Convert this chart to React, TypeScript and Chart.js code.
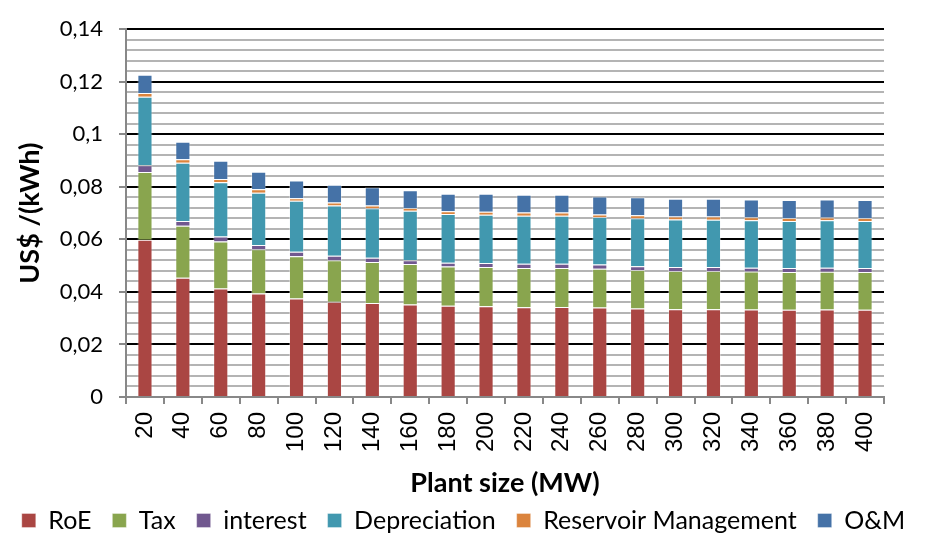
import React, { useEffect, useRef } from "react";
import { Chart, registerables } from "chart.js";

Chart.register(...registerables);

const categories = ["20","40","60","80","100","120","140","160","180","200","220","240","260","280","300","320","340","360","380","400"];

const roe = [0.0599,0.0454,0.0413,0.0394,0.0375,0.0363,0.0358,0.0352,0.0347,0.0345,0.0342,0.0343,0.0341,0.0337,0.0334,0.0334,0.0333,0.0332,0.0333,0.0332];
const tax = [0.0257,0.0198,0.0179,0.0168,0.0161,0.0158,0.0156,0.0154,0.0150,0.0150,0.0149,0.0148,0.0147,0.0146,0.0146,0.0146,0.0145,0.0144,0.0144,0.0144];
const interest = [0.0026,0.0018,0.0019,0.0017,0.0017,0.0017,0.0016,0.0015,0.0014,0.0015,0.0016,0.0016,0.0016,0.0015,0.0015,0.0015,0.0014,0.0015,0.0015,0.0015];
const depreciation = [0.0261,0.0222,0.0206,0.0198,0.0194,0.0191,0.0188,0.0188,0.0186,0.0184,0.0183,0.0183,0.0181,0.0182,0.0181,0.0180,0.0181,0.0179,0.0181,0.0179];
const reservoir = [0.0014,0.0013,0.0013,0.0014,0.0010,0.0011,0.0011,0.0010,0.0010,0.0011,0.0012,0.0012,0.0010,0.0012,0.0011,0.0012,0.0011,0.0011,0.0010,0.0011];
const om = [0.0070,0.0067,0.0069,0.0066,0.0067,0.0068,0.0069,0.0068,0.0067,0.0069,0.0068,0.0068,0.0068,0.0068,0.0068,0.0068,0.0068,0.0069,0.0069,0.0069];

const seriesNames = ["RoE","Tax","interest","Depreciation","Reservoir Management","O&M"];
const seriesColors = ["#AA4643","#89A54E","#71588F","#4198AF","#DB843D","#4572A7"];

const yMax = 0.14;
const yMajorStep = 0.02;
const yMinorStep = 0.004;
const yTitle = "US$ /(kWh)";
const xTitle = "Plant size (MW)";

const FONT = "Lato, 'Open Sans', sans-serif";

function isMajor(v: number) {
  const r = v / yMajorStep;
  return Math.abs(r - Math.round(r)) < 1e-6;
}

export default function App() {
  const ref = useRef<HTMLCanvasElement | null>(null);
  useEffect(() => {
    if (!ref.current) return;
    const values = [roe, tax, interest, depreciation, reservoir, om];
    const chart = new Chart(ref.current, {
      type: "bar",
      data: {
        labels: categories,
        datasets: values.map((d, i) => ({
          label: seriesNames[i],
          data: d,
          backgroundColor: seriesColors[i],
          borderColor: "rgba(255,255,255,0.35)",
          borderWidth: 1,
          barPercentage: 0.4,
          categoryPercentage: 1,
        })),
      },
      options: {
        animation: false,
        responsive: true,
        maintainAspectRatio: false,
        layout: { padding: { left: 0, right: 0, top: 23, bottom: -9 } },
        plugins: {
          tooltip: { enabled: false },
          legend: {
            position: "bottom",
            labels: {
              boxWidth: 14,
              boxHeight: 14,
              padding: 21,
              color: "#000",
              font: { family: FONT, size: 25 },
            },
          },
        },
        scales: {
          x: {
            stacked: true,
            afterFit: (s: any) => { s.height = 90; },
            grid: {
              offset: true,
              drawOnChartArea: false,
              tickLength: 7,
              color: "#888",
              lineWidth: 2,
            },
            border: { color: "#888", width: 2 },
            ticks: {
              minRotation: 90,
              maxRotation: 90,
              autoSkip: false,
              padding: 8,
              color: "#000",
              font: { family: "'Liberation Sans', Arial, sans-serif", size: 24 },
            },
            title: {
              display: true,
              text: xTitle,
              color: "#000",
              padding: { top: 0, bottom: -12 },
              font: { family: FONT, size: 27, weight: "bold" },
            },
          },
          y: {
            stacked: true,
            min: 0,
            max: yMax,
            afterFit: (s: any) => { s.width = 126; },
            grid: {
              color: (c: any) => (isMajor(c.tick.value) ? "#000" : "#b4b4b4"),
              lineWidth: 2,
              tickLength: 7,
              tickColor: (c: any) => (isMajor(c.tick.value) ? "#888" : "rgba(0,0,0,0)"),
            },
            border: { color: "#888", width: 2 },
            ticks: {
              stepSize: yMinorStep,
              autoSkip: false,
              padding: 16,
              color: "#000",
              font: { family: FONT, size: 22 },
              callback: (v: any) => {
                const n = Number(v);
                if (!isMajor(n)) return "";
                return String(Number(n.toFixed(2))).replace(".", ",");
              },
            },
            title: {
              display: true,
              text: yTitle,
              color: "#000",
              padding: { top: 14, bottom: 0 },
              font: { family: FONT, size: 27, weight: "bold" },
            },
          },
          yRight: {
            position: "right",
            display: true,
            afterFit: (s: any) => { s.width = 43; },
            grid: { display: false, drawTicks: false },
            border: { display: false },
            ticks: { display: false },
          },
        },
      },
    });
    return () => chart.destroy();
  }, []);
  return (
    <div style={{ position: "fixed", left: 0, top: 0, width: 927, height: 534 }}>
      <canvas ref={ref} />
    </div>
  );
}
